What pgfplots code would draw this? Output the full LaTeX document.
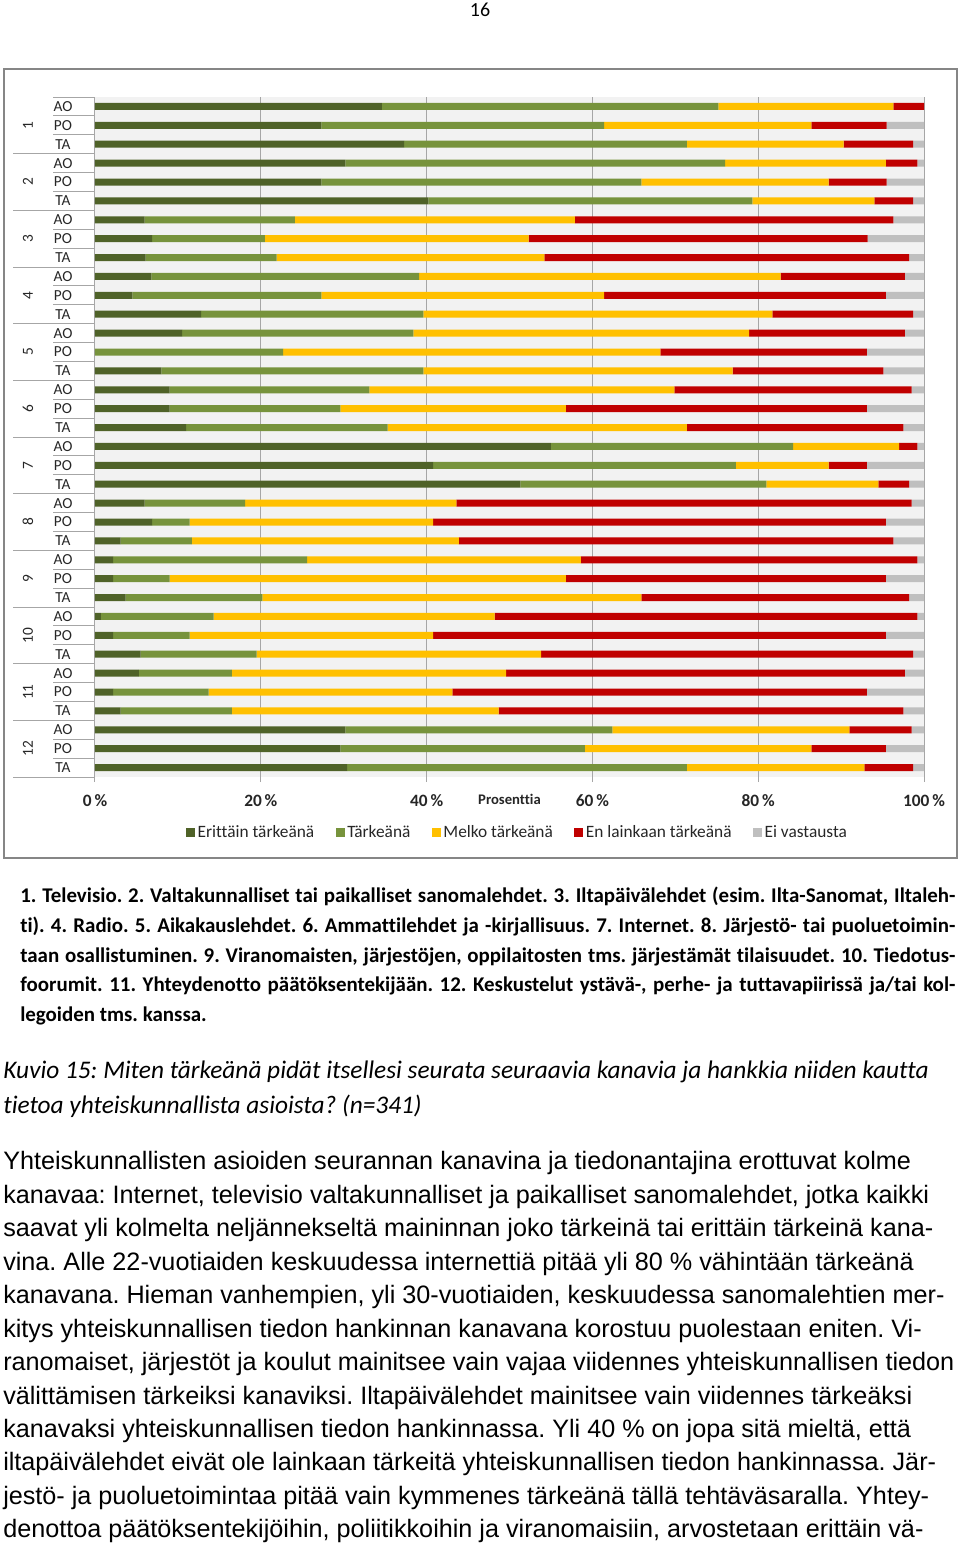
\documentclass[border=0pt]{standalone}
\usepackage{fontspec}
\setmainfont{Carlito}[Ligatures=CommonOff]
\newfontfamily\arialf{Liberation Sans}
\usepackage{pgfplots}
\usepackage{pgfplotstable}
\pgfplotsset{compat=1.18}
\definecolor{dkgreen}{HTML}{4F6228}
\definecolor{ltgreen}{HTML}{77933C}
\definecolor{myyellow}{HTML}{FFC000}
\definecolor{myred}{HTML}{C00000}
\definecolor{mygray}{HTML}{BFBFBF}
\definecolor{bgcol}{HTML}{F2F2F2}
\definecolor{gridcol}{HTML}{A6A6A6}
\definecolor{bordercol}{HTML}{868686}
\definecolor{txtcol}{HTML}{262626}

\pgfplotstableread{
idx a b c d e
1 34.6 40.6 21.1 3.7 0.0
2 27.3 34.1 25.0 9.1 4.5
3 37.3 34.1 18.9 8.4 1.3
4 30.2 45.8 19.4 3.8 0.8
5 27.3 38.6 22.6 7.0 4.5
6 40.2 39.1 14.7 4.7 1.3
7 6.0 18.1 33.8 38.4 3.7
8 6.9 13.6 31.8 40.9 6.8
9 6.1 15.8 32.3 44.0 1.8
10 6.8 32.3 43.6 15.0 2.3
11 4.5 22.8 34.1 34.0 4.6
12 12.8 26.8 42.1 17.0 1.3
13 10.5 27.9 40.5 18.8 2.3
14 0.0 22.7 45.5 24.9 6.9
15 8.0 31.6 37.3 18.2 4.9
16 9.0 24.1 36.8 28.6 1.5
17 9.0 20.6 27.2 36.3 6.9
18 11.0 24.3 36.1 26.1 2.5
19 55.0 29.2 12.8 2.2 0.8
20 40.8 36.5 11.2 4.6 6.9
21 51.3 29.7 13.5 3.7 1.8
22 6.0 12.1 25.5 54.9 1.5
23 6.9 4.5 29.4 54.6 4.6
24 3.1 8.6 32.2 52.4 3.7
25 2.2 23.4 33.0 40.6 0.8
26 2.2 6.8 47.8 38.6 4.6
27 3.7 16.5 45.7 32.3 1.8
28 0.7 13.6 33.9 51.0 0.8
29 2.2 9.2 29.4 54.6 4.6
30 5.5 14.0 34.3 44.9 1.3
31 5.3 11.2 33.1 48.1 2.3
32 2.2 11.5 29.4 50.0 6.9
33 3.1 13.4 32.2 48.8 2.5
34 30.2 32.2 28.6 7.5 1.5
35 29.6 29.5 27.3 9.0 4.6
36 30.4 41.0 21.4 5.9 1.3
}\data

\begin{document}
\frenchspacing
\begin{tikzpicture}
\begin{scope}[x=0.75pt,y=-0.75pt]
\path[use as bounding box] (0,0) rectangle (960,1543);
\node[anchor=base] at (480,16) {\fontsize{15}{18}\selectfont 16};
\draw[bordercol, line width=1.1pt] (4,69) rectangle (957,858);
\end{scope}

\begin{axis}[
  at={(71.25pt,-72.75pt)}, anchor=north west,
  width=621.75pt, height=510pt, scale only axis,
  xbar stacked, bar width=5.25pt,
  xmin=0, xmax=100, ymin=0.5, ymax=36.5, y dir=reverse,
  axis background/.style={fill=bgcol},
  axis line style={draw=none},
  xmajorgrids, grid style={gridcol, line width=0.75pt},
  xtick={0,20,40,60,80,100},
  xticklabels={0\,\%,20\,\%,40\,\%,60\,\%,80\,\%,100\,\%},
  xtick pos=bottom, tick align=outside, major tick length=3.75pt,
  xtick style={gridcol, line width=0.75pt},
  xticklabel style={font=\bfseries\fontsize{13}{15}\selectfont, text=txtcol, yshift=-6pt},
  ytick={1,...,36},
  yticklabels={AO,PO,TA,AO,PO,TA,AO,PO,TA,AO,PO,TA,AO,PO,TA,AO,PO,TA,AO,PO,TA,AO,PO,TA,AO,PO,TA,AO,PO,TA,AO,PO,TA,AO,PO,TA},
  ytick pos=left, ytick style={draw=none},
  yticklabel style={font=\fontsize{11.5}{12}\selectfont, text=txtcol, anchor=center, xshift=-20.25pt},
  xlabel={Prosenttia},
  xlabel style={at={(axis description cs:0.5,0)}, anchor=center, yshift=-17pt, font=\bfseries\fontsize{11}{12}\selectfont, text=txtcol},
  legend columns=5,
  legend style={at={(axis description cs:0.51,-0.082)}, anchor=center, draw=none, fill=none,
    font=\fontsize{13}{15}\selectfont, text=txtcol,
    /tikz/every even column/.append style={column sep=14pt}},
  legend image code/.code={\fill[#1] (0pt,-3.4pt) rectangle (6.8pt,3.4pt);},
  every axis plot/.append style={draw=none},
]
\addplot[fill=dkgreen] table[x=a,y=idx]{\data};
\addplot[fill=ltgreen] table[x=b,y=idx]{\data};
\addplot[fill=myyellow] table[x=c,y=idx]{\data};
\addplot[fill=myred] table[x=d,y=idx]{\data};
\addplot[fill=mygray] table[x=e,y=idx]{\data};
\legend{Erittäin tärkeänä,Tärkeänä,Melko tärkeänä,En lainkaan tärkeänä,Ei vastausta}
\end{axis}

\begin{scope}[x=0.75pt,y=-0.75pt]
\foreach \k in {0,...,36} {\draw[gridcol, line width=0.75pt] (53,{97+\k*18.8889}) -- (95,{97+\k*18.8889});}
\foreach \k in {3,6,...,36} {\draw[gridcol, line width=0.75pt] (13,{97+\k*18.8889}) -- (95,{97+\k*18.8889});}
\foreach \g in {1,...,12} {\node[rotate=90, text=txtcol, font=\fontsize{11.5}{12}\selectfont] at (28,{97+(3*\g-1.5)*18.8889}) {\g};}

% notes
\begin{scope}[every node/.style={anchor=base west, inner sep=0pt, font=\bfseries\fontsize{15.7}{18}\selectfont}]
\node at (20,902) {\makebox[701.25pt][s]{1. Televisio. 2. Valtakunnalliset tai paikalliset sanomalehdet. 3. Iltapäivälehdet (esim. Ilta-Sanomat, Iltaleh-}};
\node at (20,932) {\makebox[701.25pt][s]{ti). 4. Radio. 5. Aikakauslehdet. 6. Ammattilehdet ja -kirjallisuus. 7. Internet. 8. Järjestö- tai puoluetoimin-}};
\node at (20,962) {\makebox[701.25pt][s]{taan osallistuminen. 9. Viranomaisten, järjestöjen, oppilaitosten tms. järjestämät tilaisuudet. 10. Tiedotus-}};
\node at (20,991) {\makebox[701.25pt][s]{foorumit. 11. Yhteydenotto päätöksentekijään. 12. Keskustelut ystävä-, perhe- ja tuttavapiirissä ja/tai kol-}};
\node at (20,1021) {legoiden tms. kanssa.};
\end{scope}

% caption
\begin{scope}[every node/.style={anchor=base west, inner sep=0pt, font=\itshape\fontsize{19}{22}\selectfont}]
\node at (3,1078) {Kuvio 15: Miten tärkeänä pidät itsellesi seurata seuraavia kanavia ja hankkia niiden kautta};
\node at (3,1113) {tietoa yhteiskunnallista asioista? (n=341)};
\end{scope}

% body
\begin{scope}[every node/.style={anchor=base west, inner sep=0pt, font=\arialf\fontsize{18.9}{22}\selectfont}]
\node at (3,1169) {Yhteiskunnallisten asioiden seurannan kanavina ja tiedonantajina erottuvat kolme};
\node at (3,1203) {kanavaa: Internet, televisio valtakunnalliset ja paikalliset sanomalehdet, jotka kaikki};
\node at (3,1236) {saavat yli kolmelta neljännekseltä maininnan joko tärkeinä tai erittäin tärkeinä kana-};
\node at (3,1270) {vina. Alle 22-vuotiaiden keskuudessa internettiä pitää yli 80 \% vähintään tärkeänä};
\node at (3,1303) {kanavana. Hieman vanhempien, yli 30-vuotiaiden, keskuudessa sanomalehtien mer-};
\node at (3,1337) {kitys yhteiskunnallisen tiedon hankinnan kanavana korostuu puolestaan eniten. Vi-};
\node at (3,1370) {ranomaiset, järjestöt ja koulut mainitsee vain vajaa viidennes yhteiskunnallisen tiedon};
\node at (3,1404) {välittämisen tärkeiksi kanaviksi. Iltapäivälehdet mainitsee vain viidennes tärkeäksi};
\node at (3,1437) {kanavaksi yhteiskunnallisen tiedon hankinnassa. Yli 40 \% on jopa sitä mieltä, että};
\node at (3,1470) {iltapäivälehdet eivät ole lainkaan tärkeitä yhteiskunnallisen tiedon hankinnassa. Jär-};
\node at (3,1504) {jestö- ja puoluetoimintaa pitää vain kymmenes tärkeänä tällä tehtäväsaralla. Yhtey-};
\node at (3,1537) {denottoa päätöksentekijöihin, poliitikkoihin ja viranomaisiin, arvostetaan erittäin vä-};
\end{scope}
\end{scope}
\end{tikzpicture}
\end{document}
